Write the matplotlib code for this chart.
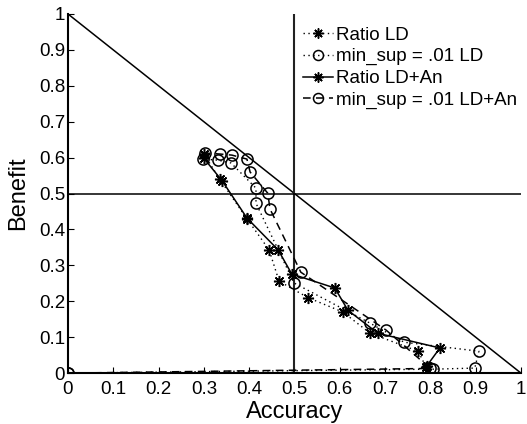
import numpy as np
import matplotlib.pyplot as plt

plt.rcParams['font.family'] = ['Liberation Sans', 'DejaVu Sans']

# Ratio-based selection, LD only
ratio_ld_acc = [0.30, 0.335, 0.395, 0.444, 0.466, 0.530, 0.607, 0.667, 0.773, 0.790]
ratio_ld_ben = [0.610, 0.540, 0.430, 0.343, 0.256, 0.210, 0.170, 0.111, 0.061, 0.018]

# min_sup = .01, LD only
minsup_ld_acc = [0.0, 0.806, 0.898, 0.907, 0.742, 0.667, 0.499, 0.415, 0.415, 0.360, 0.331, 0.298]
minsup_ld_ben = [0.0, 0.011, 0.014, 0.061, 0.086, 0.139, 0.251, 0.473, 0.515, 0.585, 0.593, 0.596]

# Ratio-based selection, LD+An
ratio_an_acc = [0.30, 0.340, 0.395, 0.464, 0.494, 0.589, 0.618, 0.684, 0.821, 0.792]
ratio_an_ben = [0.598, 0.536, 0.432, 0.343, 0.276, 0.237, 0.175, 0.111, 0.070, 0.020]

# min_sup = .01, LD+An
minsup_an_acc = [0.0, 0.800, 0.702, 0.514, 0.446, 0.441, 0.402, 0.395, 0.362, 0.336, 0.302]
minsup_an_ben = [0.0, 0.013, 0.120, 0.281, 0.457, 0.501, 0.560, 0.596, 0.607, 0.610, 0.613]

ticks = np.arange(0, 11) / 10
tick_labels = ['0', '0.1', '0.2', '0.3', '0.4', '0.5', '0.6', '0.7', '0.8', '0.9', '1']

fig = plt.figure(figsize=(5.27, 4.24), dpi=100)
ax = fig.add_axes([0.129, 0.120, 0.8596, 0.847])

# reference lines: diagonal and the two 0.5 cross lines
ax.plot([0, 1], [1, 0], color='black', lw=1.1)
ax.plot([0.5, 0.5], [0, 1], color='#222222', lw=1.5)
ax.plot([0, 1], [0.5, 0.5], color='black', lw=1.1)

asterisk = (8, 2, 0)
ax.plot(ratio_ld_acc, ratio_ld_ben, linestyle=(0, (1, 2.5)), color='black', lw=1.0,
        marker=asterisk, markersize=8, markeredgewidth=1.1, label='Ratio LD')
ax.plot(minsup_ld_acc, minsup_ld_ben, linestyle=(0, (1, 2.5)), color='black', lw=1.0,
        marker='o', markersize=8, markerfacecolor='none', markeredgewidth=1.1,
        label='min_sup = .01 LD')
ax.plot(ratio_an_acc, ratio_an_ben, linestyle='-', color='black', lw=1.1,
        marker=asterisk, markersize=8, markeredgewidth=1.1, label='Ratio LD+An')
ax.plot(minsup_an_acc, minsup_an_ben, linestyle=(0, (5, 3.5)), color='black', lw=1.1,
        marker='o', markersize=8, markerfacecolor='none', markeredgewidth=1.1,
        label='min_sup = .01 LD+An')

ax.set_xlim(0, 1)
ax.set_ylim(0, 1)
ax.set_xticks(ticks)
ax.set_xticklabels(tick_labels)
ax.set_yticks(ticks)
ax.set_yticklabels(tick_labels)
ax.tick_params(direction='in', length=4, labelsize=13.5, pad=2)
ax.tick_params(axis='x', pad=6)
ax.spines['top'].set_visible(False)
ax.spines['right'].set_visible(False)
ax.spines['left'].set_linewidth(1.5)
ax.spines['bottom'].set_linewidth(1.5)
ax.set_xlabel('Accuracy', fontsize=17, labelpad=2)
ax.set_ylabel('Benefit', fontsize=17, labelpad=7)

ax.legend(loc='upper left', bbox_to_anchor=(0.518, 0.965), frameon=False, fontsize=13.5,
          handlelength=1.6, handletextpad=0.2, labelspacing=0.24, borderaxespad=0,
          borderpad=0, markerscale=0.9)

fig.savefig('out.png', dpi=100)
